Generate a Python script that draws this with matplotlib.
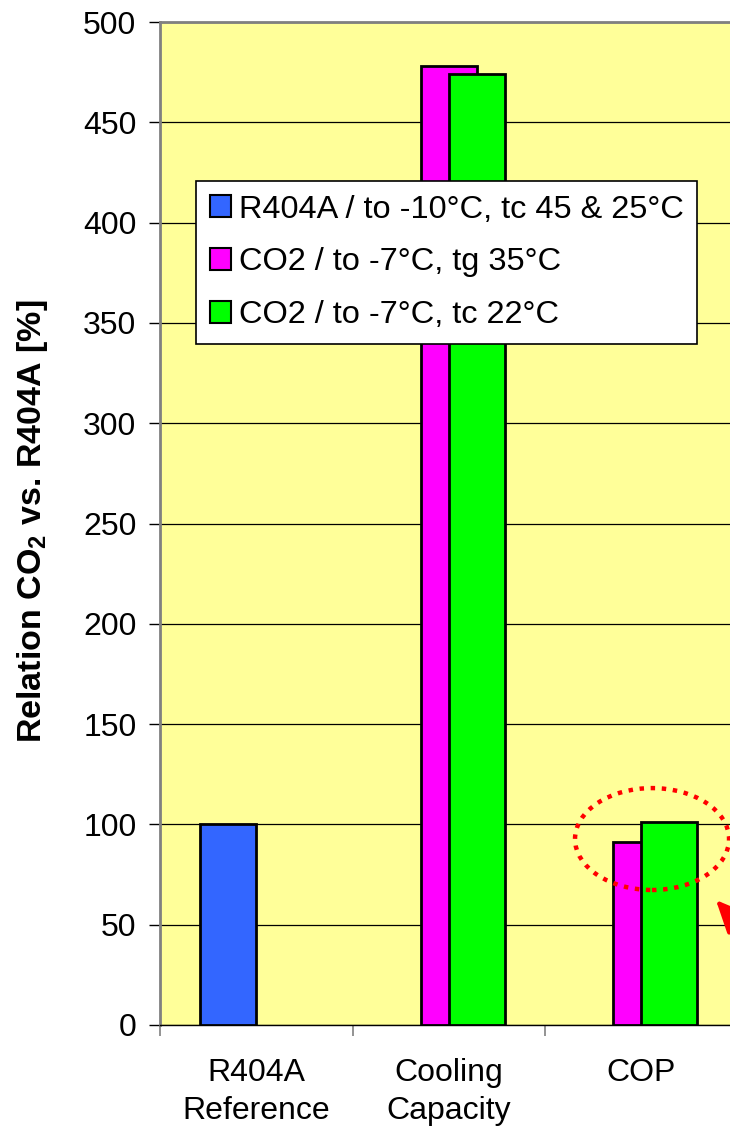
import matplotlib
matplotlib.use("Agg")
import matplotlib.pyplot as plt
from matplotlib.patches import Ellipse, Patch
import numpy as np

plt.rcParams['font.family'] = ['Liberation Sans', 'DejaVu Sans']
plt.rcParams['mathtext.fontset'] = 'custom'
plt.rcParams['mathtext.rm'] = 'Liberation Sans'
plt.rcParams['mathtext.bf'] = 'Liberation Sans:bold'

categories = ["R404A\nReference", "Cooling\nCapacity", "COP"]
series_names = ["R404A / to -10°C, tc 45 & 25°C",
                "CO2 / to -7°C, tg 35°C",
                "CO2 / to -7°C, tc 22°C"]
r404a_values = [100, None, None]
co2_tg35_values = [None, 478, 91]
co2_tc22_values = [None, 474, 101]
colors = ["#3366FF", "#FF00FF", "#00FF00"]
yticks = [0, 50, 100, 150, 200, 250, 300, 350, 400, 450, 500]

W, H = 730, 1126
fig = plt.figure(figsize=(W / 100, H / 100), dpi=100)
ax = fig.add_axes([160 / W, 101 / H, 577.5 / W, 1003 / H])
ax.set_facecolor("#FFFF99")

x = np.arange(len(categories))
width = 0.29
offsets = [-0.145, 0.0, 0.145]
for i, vals in enumerate([r404a_values, co2_tg35_values, co2_tc22_values]):
    xs = [x[j] + offsets[i] for j, v in enumerate(vals) if v is not None]
    vs = [v for v in vals if v is not None]
    ax.bar(xs, vs, width=width, color=colors[i], edgecolor="black",
           linewidth=2, zorder=3 + i)

ax.set_xlim(-0.5, len(categories) - 0.5)
ax.set_ylim(0, 500)
ax.set_yticks(yticks)
ax.yaxis.grid(True, color="black", linewidth=0.9, zorder=1)
ax.set_axisbelow(True)

ax.set_xticks(np.arange(len(categories) + 1) - 0.5)
ax.set_xticklabels([])
ax.set_xticks(x, minor=True)
ax.set_xticklabels(categories, minor=True, fontsize=23, linespacing=1.35)
ax.tick_params(axis="x", which="minor", length=0, pad=24)
ax.tick_params(axis="x", which="major", length=8, width=1.2, color="#808080", direction="out")
ax.tick_params(axis="y", length=8, width=1, color="black", direction="out", labelsize=23, pad=9)

for s in ["top", "right"]:
    ax.spines[s].set_visible(False)
ax.spines["left"].set_color("#808080")
ax.spines["left"].set_linewidth(2)
ax.spines["bottom"].set_color("black")
ax.spines["bottom"].set_linewidth(1)
ax.axhline(500, color="#808080", linewidth=2, zorder=2, clip_on=False)

fig.text(33 / W, 1 - 521 / H, r"Relation CO$_\mathbf{2}$ vs. R404A [%]",
         rotation=90, ha="center", va="center", fontsize=24.5, fontweight="bold")

handles = [Patch(facecolor=c, edgecolor="black", linewidth=1.5) for c in colors]
leg = ax.legend(handles, series_names, loc="upper left",
                bbox_to_anchor=(196 / W, 1 - 181 / H), bbox_transform=fig.transFigure,
                fontsize=23.4, frameon=True, fancybox=False, framealpha=1,
                edgecolor="black", borderpad=0.42, handlelength=0.65, handleheight=0.65,
                handletextpad=0.25, labelspacing=0.7, borderaxespad=0)
leg.get_frame().set_linewidth(1.2)
leg.set_zorder(10)

ell = Ellipse((2.056, 92.7), 0.8, 50.8, fill=False, edgecolor="red",
              linewidth=3.2, linestyle=(0, (1, 1.5)), zorder=8)
ax.add_patch(ell)

ax.annotate("", xy=(714, H - 898), xycoords="figure pixels",
            xytext=(800, H - 990), textcoords="figure pixels",
            arrowprops=dict(arrowstyle="-|>,head_length=2.0,head_width=0.9",
                            color="red", lw=3), zorder=9)

fig.savefig("out.png", dpi=100)
